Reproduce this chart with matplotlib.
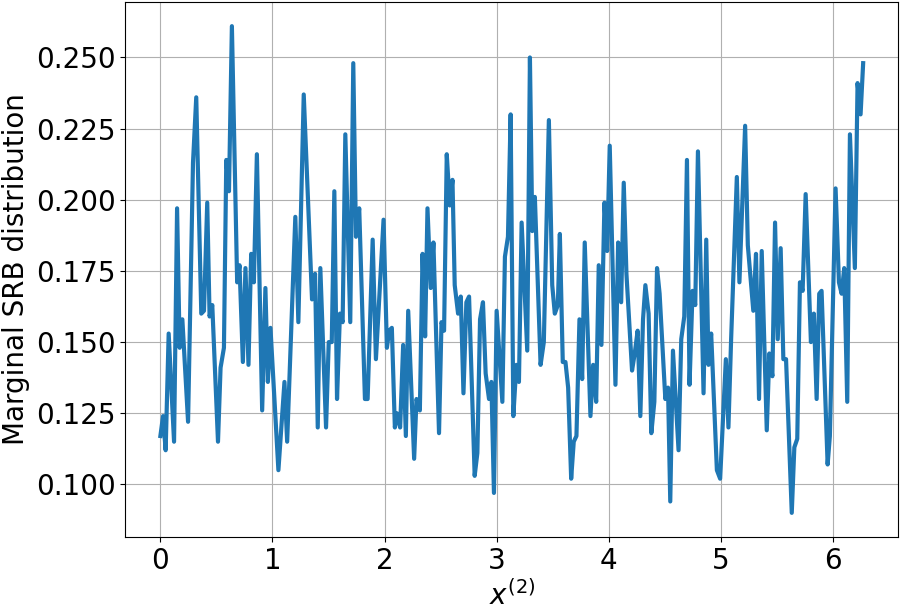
import matplotlib
matplotlib.use("Agg")
import matplotlib.pyplot as plt

# vertices
x2 = [0.000, 0.024, 0.047, 0.074, 0.122, 0.149, 0.172, 0.196, 0.247, 0.291,
      0.320, 0.365, 0.389, 0.418, 0.439, 0.463, 0.514, 0.537, 0.567, 0.588,
      0.612, 0.638, 0.685, 0.706, 0.736, 0.759, 0.786, 0.810, 0.834, 0.861,
      0.908, 0.937, 0.959, 0.982, 1.053, 1.107, 1.131, 1.204, 1.231, 1.279,
      1.353, 1.380, 1.404, 1.427, 1.478, 1.502, 1.529, 1.552, 1.576, 1.602,
      1.626, 1.650, 1.694, 1.721, 1.745, 1.774, 1.825, 1.849, 1.894, 1.923,
      1.991, 2.021, 2.041, 2.065, 2.092, 2.110, 2.139, 2.166, 2.190, 2.211,
      2.264, 2.285, 2.315, 2.339, 2.362, 2.383, 2.412, 2.436, 2.486, 2.508,
      2.531, 2.555, 2.582, 2.606, 2.626, 2.656, 2.680, 2.704, 2.730, 2.754,
      2.804, 2.828, 2.852, 2.878, 2.902, 2.932, 2.953, 2.976, 3.000, 3.051,
      3.074, 3.101, 3.125, 3.149, 3.176, 3.199, 3.223, 3.273, 3.297, 3.318,
      3.341, 3.392, 3.421, 3.466, 3.496, 3.519, 3.546, 3.564, 3.590, 3.614,
      3.638, 3.665, 3.688, 3.712, 3.739, 3.763, 3.786, 3.837, 3.861, 3.888,
      3.911, 3.935, 3.962, 3.986, 4.009, 4.060, 4.084, 4.111, 4.134, 4.158,
      4.208, 4.232, 4.258, 4.282, 4.306, 4.327, 4.356, 4.380, 4.407, 4.431,
      4.454, 4.505, 4.529, 4.549, 4.573, 4.623, 4.647, 4.674, 4.698, 4.721,
      4.748, 4.772, 4.796, 4.846, 4.870, 4.890, 4.914, 4.965, 4.994, 5.045,
      5.068, 5.092, 5.143, 5.166, 5.217, 5.241, 5.290, 5.314, 5.341, 5.365,
      5.410, 5.433, 5.460, 5.484, 5.508, 5.534, 5.558, 5.582, 5.633, 5.656,
      5.682, 5.706, 5.730, 5.757, 5.804, 5.830, 5.855, 5.878, 5.899, 5.953,
      5.973, 6.024, 6.054, 6.078, 6.101, 6.128, 6.152, 6.196, 6.220, 6.247,
      6.270]

srb = [0.117, 0.124, 0.112, 0.153, 0.115, 0.197, 0.148, 0.158, 0.122, 0.213,
       0.236, 0.160, 0.161, 0.199, 0.159, 0.163, 0.115, 0.141, 0.148, 0.214,
       0.203, 0.261, 0.171, 0.177, 0.143, 0.176, 0.142, 0.181, 0.171, 0.216,
       0.126, 0.169, 0.136, 0.155, 0.105, 0.136, 0.115, 0.194, 0.157, 0.237,
       0.165, 0.174, 0.120, 0.176, 0.120, 0.150, 0.150, 0.203, 0.130, 0.160,
       0.157, 0.223, 0.157, 0.248, 0.187, 0.197, 0.130, 0.130, 0.186, 0.144,
       0.193, 0.148, 0.154, 0.155, 0.120, 0.125, 0.120, 0.149, 0.117, 0.161,
       0.109, 0.130, 0.126, 0.181, 0.152, 0.197, 0.169, 0.185, 0.118, 0.157,
       0.154, 0.216, 0.198, 0.207, 0.170, 0.160, 0.166, 0.132, 0.164, 0.166,
       0.103, 0.111, 0.158, 0.164, 0.139, 0.130, 0.136, 0.097, 0.161, 0.129,
       0.180, 0.187, 0.230, 0.124, 0.142, 0.136, 0.192, 0.147, 0.250, 0.189,
       0.201, 0.142, 0.150, 0.228, 0.170, 0.160, 0.163, 0.188, 0.143, 0.143,
       0.134, 0.102, 0.115, 0.117, 0.158, 0.137, 0.185, 0.124, 0.142, 0.129,
       0.177, 0.149, 0.199, 0.182, 0.219, 0.135, 0.185, 0.164, 0.206, 0.174,
       0.140, 0.146, 0.154, 0.124, 0.158, 0.170, 0.160, 0.118, 0.129, 0.176,
       0.167, 0.130, 0.134, 0.094, 0.147, 0.112, 0.151, 0.159, 0.214, 0.135,
       0.168, 0.163, 0.217, 0.132, 0.186, 0.142, 0.153, 0.105, 0.102, 0.144,
       0.120, 0.151, 0.208, 0.171, 0.226, 0.184, 0.161, 0.181, 0.130, 0.182,
       0.119, 0.146, 0.138, 0.192, 0.151, 0.183, 0.144, 0.144, 0.090, 0.113,
       0.116, 0.171, 0.168, 0.202, 0.150, 0.160, 0.130, 0.167, 0.168, 0.107,
       0.117, 0.204, 0.171, 0.167, 0.176, 0.129, 0.223, 0.176, 0.241, 0.230,
       0.248]

fig = plt.figure(figsize=(9.01, 6.07), dpi=100)
ax = fig.add_subplot(111)
ax.plot(x2, srb, color='#1f77b4', linewidth=3)
ax.grid(True)
ax.set_xlabel('$x^{(2)}$', fontsize=20, labelpad=4)
ax.set_ylabel('Marginal SRB distribution', fontsize=20)
ax.tick_params(labelsize=20)
fig.subplots_adjust(left=0.139, right=0.997, top=0.997, bottom=0.115)

plt.savefig('out.png', dpi=100)
